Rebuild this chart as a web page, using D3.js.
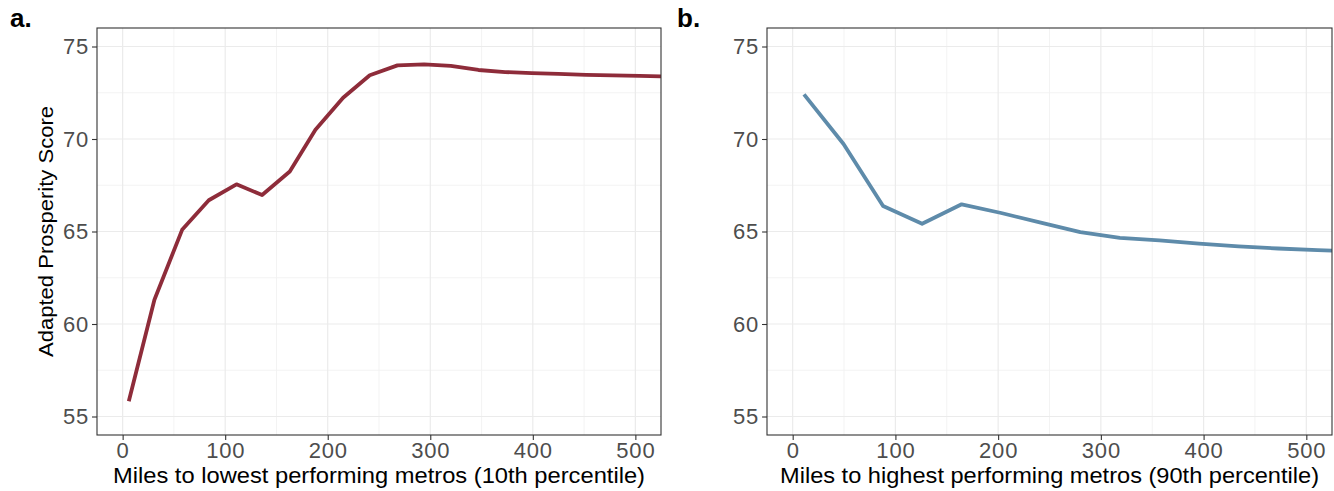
<!DOCTYPE html>
<html>
<head>
<meta charset="utf-8">
<script src="https://cdn.jsdelivr.net/npm/d3@7"></script>
<style>
  html, body { margin: 0; padding: 0; background: #fff; }
  svg { display: block; font-family: "Liberation Sans", Arial, sans-serif; }
</style>
</head>
<body>
<svg id="chart" width="1334" height="491"></svg>
<script>
// Distance to lowest performing metros (10th percentile), miles
const lowMiles = [6, 31, 58, 84, 111, 136, 163, 188, 215, 241, 268, 294, 320, 347, 373, 399, 425, 452, 478, 504, 530];
const lowScore = [55.82, 61.31, 65.09, 66.69, 67.55, 66.97, 68.24, 70.5, 72.23, 73.45, 73.98, 74.03, 73.95, 73.73, 73.62, 73.56, 73.52, 73.47, 73.44, 73.41, 73.38];

// Distance to highest performing metros (90th percentile), miles
const highMiles = [11, 49.5, 88, 126, 164.5, 203, 241.5, 280, 318.5, 357, 395.5, 434, 472.5, 511, 549.5];
const highScore = [72.41, 69.73, 66.38, 65.42, 66.47, 66.0, 65.48, 64.97, 64.65, 64.52, 64.35, 64.2, 64.08, 63.99, 63.93];

const xTicks = [0, 100, 200, 300, 400, 500];
const xMinor = [50, 150, 250, 350, 450];
const yTicks = [55, 60, 65, 70, 75];
const yMinor = [57.5, 62.5, 67.5, 72.5];

const svg = d3.select("#chart");

const panels = [
  { id: "a", tag: "a.", tagX: 10, left: 97, right: 661, miles: lowMiles, score: lowScore,
    color: "#8E2C3A", xTitle: "Miles to lowest performing metros (10th percentile)", xTitleLen: 532,
    yTitle: "Adapted Prosperity Score" },
  { id: "b", tag: "b.", tagX: 677, left: 767, right: 1332, miles: highMiles, score: highScore,
    color: "#5E8BAA", xTitle: "Miles to highest performing metros (90th percentile)", xTitleLen: 539,
    yTitle: null }
];

const plotTop = 28, plotBottom = 435;

panels.forEach(p => {
  const x = d3.scaleLinear().domain([-25, 525]).range([p.left, p.right]);
  const y = d3.scaleLinear().domain([54, 76]).range([plotBottom, plotTop]);
  const g = svg.append("g");

  // minor grid
  g.append("g").selectAll("line").data(xMinor).join("line")
    .attr("x1", d => x(d)).attr("x2", d => x(d)).attr("y1", plotTop).attr("y2", plotBottom)
    .attr("stroke", "#F2F2F2").attr("stroke-width", 0.9);
  g.append("g").selectAll("line").data(yMinor).join("line")
    .attr("y1", d => y(d)).attr("y2", d => y(d)).attr("x1", p.left).attr("x2", p.right)
    .attr("stroke", "#F2F2F2").attr("stroke-width", 0.9);

  // major grid
  g.append("g").selectAll("line").data(xTicks).join("line")
    .attr("x1", d => x(d)).attr("x2", d => x(d)).attr("y1", plotTop).attr("y2", plotBottom)
    .attr("stroke", "#EBEBEB").attr("stroke-width", 1.2);
  g.append("g").selectAll("line").data(yTicks).join("line")
    .attr("y1", d => y(d)).attr("y2", d => y(d)).attr("x1", p.left).attr("x2", p.right)
    .attr("stroke", "#EBEBEB").attr("stroke-width", 1.2);

  // series line, clipped to the panel
  const clipId = "clip-" + p.id;
  svg.append("clipPath").attr("id", clipId).append("rect")
    .attr("x", p.left).attr("y", plotTop).attr("width", p.right - p.left).attr("height", plotBottom - plotTop);

  const pts = p.miles.map((m, i) => [m, p.score[i]]);
  const line = d3.line().x(d => x(d[0])).y(d => y(d[1]));
  g.append("path").datum(pts)
    .attr("clip-path", `url(#${clipId})`)
    .attr("d", line)
    .attr("fill", "none").attr("stroke", p.color).attr("stroke-width", 3.8)
    .attr("stroke-linejoin", "round").attr("stroke-linecap", "butt");

  // panel border
  g.append("rect").attr("x", p.left).attr("y", plotTop)
    .attr("width", p.right - p.left).attr("height", plotBottom - plotTop)
    .attr("fill", "none").attr("stroke", "#333333").attr("stroke-width", 1.1);

  // axes
  const xAxis = d3.axisBottom(x).tickValues(xTicks).tickSize(5).tickPadding(4);
  const gx = g.append("g").attr("transform", `translate(0,${plotBottom})`).call(xAxis);
  gx.select(".domain").remove();
  gx.selectAll(".tick line").attr("stroke", "#333333").attr("stroke-width", 1.1);
  gx.selectAll(".tick text").attr("fill", "#4D4D4D").attr("font-size", 22)
    .attr("letter-spacing", 0.8)
    .attr("font-family", "Liberation Sans, Arial, sans-serif").attr("dy", "0.71em").attr("y", 7);

  const yAxis = d3.axisLeft(y).tickValues(yTicks).tickSize(5).tickPadding(3);
  const gy = g.append("g").attr("transform", `translate(${p.left},0)`).call(yAxis);
  gy.select(".domain").remove();
  gy.selectAll(".tick line").attr("stroke", "#333333").attr("stroke-width", 1.1);
  gy.selectAll(".tick text").attr("fill", "#4D4D4D").attr("font-size", 22)
    .attr("letter-spacing", 0.8)
    .attr("font-family", "Liberation Sans, Arial, sans-serif");

  // titles
  g.append("text").attr("x", (p.left + p.right) / 2).attr("y", 483)
    .attr("text-anchor", "middle").attr("font-size", 22).attr("fill", "#000")
    .attr("textLength", p.xTitleLen).attr("lengthAdjust", "spacingAndGlyphs")
    .text(p.xTitle);
  if (p.yTitle) {
    g.append("text")
      .attr("transform", `translate(53,${(plotTop + plotBottom) / 2}) rotate(-90)`)
      .attr("text-anchor", "middle").attr("font-size", 21).attr("fill", "#000")
      .attr("textLength", 251).attr("lengthAdjust", "spacingAndGlyphs")
      .text(p.yTitle);
  }
  g.append("text").attr("x", p.tagX).attr("y", 27)
    .attr("font-size", 26).attr("font-weight", "bold").attr("fill", "#000")
    .text(p.tag);
});
</script>
</body>
</html>
